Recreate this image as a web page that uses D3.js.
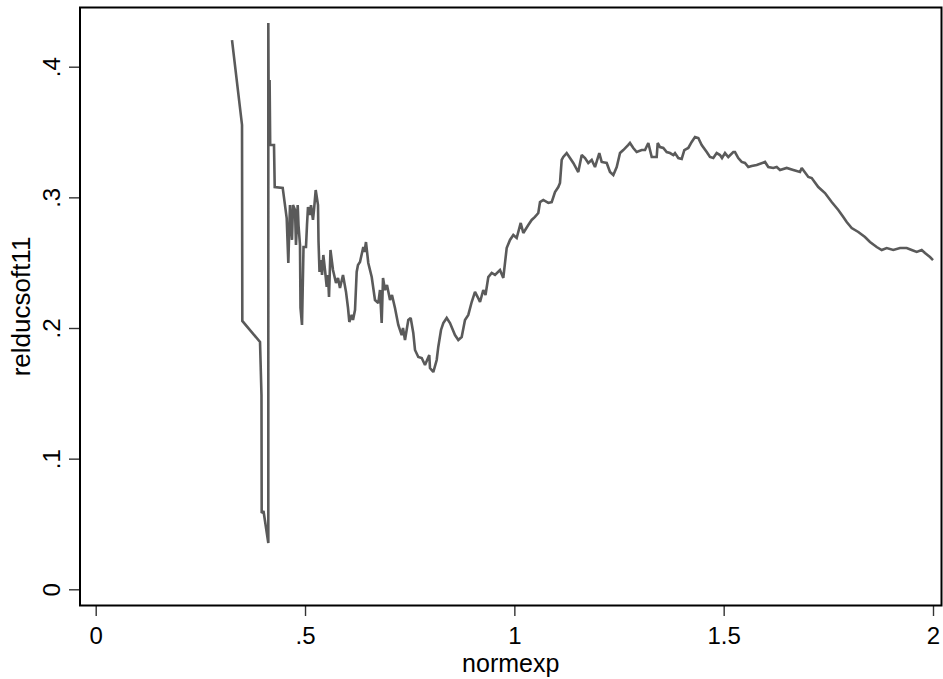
<!DOCTYPE html>
<html>
<head>
<meta charset="utf-8">
<script src="https://cdn.jsdelivr.net/npm/d3@7"></script>
<style>
  body { margin: 0; background: #fff; }
  svg { display: block; }
  text { font-family: "Liberation Sans", Arial, sans-serif; fill: #000; }
</style>
</head>
<body>
<script>
//x values (normexp)
var normexp = [0.3256, 0.3495, 0.3502, 0.3925, 0.3960, 0.3965, 0.4008, 0.4123, 0.4123, 0.4135,
  0.4154, 0.4168, 0.4259, 0.4276, 0.4467, 0.4562, 0.4601, 0.4641, 0.4689, 0.4713,
  0.4761, 0.4784, 0.4825, 0.4844, 0.4880, 0.4892, 0.4928, 0.4964, 0.5023, 0.5047,
  0.5071, 0.5119, 0.5143, 0.5190, 0.5214, 0.5255, 0.5310, 0.5322, 0.5346, 0.5382,
  0.5406, 0.5437, 0.5477, 0.5518, 0.5549, 0.5573, 0.5608, 0.5668, 0.5740, 0.5788,
  0.5835, 0.5907, 0.5979, 0.6027, 0.6058, 0.6115, 0.6146, 0.6194, 0.6234, 0.6265,
  0.6313, 0.6392, 0.6421, 0.6456, 0.6511, 0.6593, 0.6671, 0.6750, 0.6791, 0.6831,
  0.6863, 0.6910, 0.6958, 0.7030, 0.7077, 0.7149, 0.7228, 0.7309, 0.7340, 0.7388,
  0.7467, 0.7524, 0.7586, 0.7627, 0.7706, 0.7787, 0.7866, 0.7968, 0.7985, 0.8064,
  0.8145, 0.8183, 0.8248, 0.8303, 0.8384, 0.8463, 0.8582, 0.8661, 0.8742, 0.8821,
  0.8900, 0.8981, 0.9060, 0.9124, 0.9180, 0.9258, 0.9311, 0.9378, 0.9459, 0.9538,
  0.9657, 0.9736, 0.9817, 0.9896, 0.9975, 1.0056, 1.0152, 1.0214, 1.0333, 1.0414,
  1.0493, 1.0572, 1.0613, 1.0691, 1.0811, 1.0892, 1.0971, 1.1050, 1.1090, 1.1131,
  1.1169, 1.1250, 1.1329, 1.1408, 1.1527, 1.1609, 1.1688, 1.1766, 1.1848, 1.1926,
  1.2029, 1.2086, 1.2206, 1.2285, 1.2364, 1.2445, 1.2524, 1.2602, 1.2722, 1.2762,
  1.2841, 1.2922, 1.3042, 1.3121, 1.3200, 1.3281, 1.3400, 1.3424, 1.3479, 1.3558,
  1.3639, 1.3718, 1.3797, 1.3837, 1.3916, 1.3997, 1.4060, 1.4155, 1.4236, 1.4315,
  1.4394, 1.4475, 1.4595, 1.4673, 1.4752, 1.4833, 1.4912, 1.4960, 1.5032, 1.5110,
  1.5230, 1.5270, 1.5349, 1.5430, 1.5509, 1.5588, 1.5669, 1.5789, 1.5987, 1.6066,
  1.6185, 1.6266, 1.6346, 1.6505, 1.6663, 1.6823, 1.6864, 1.7022, 1.7103, 1.7260,
  1.7420, 1.7580, 1.7738, 1.7857, 1.7939, 1.8058, 1.8216, 1.8375, 1.8495, 1.8655,
  1.8775, 1.8894, 1.9052, 1.9212, 1.9372, 1.9491, 1.9611, 1.9730, 1.9809, 1.9928,
  2.0000];

//y values (relducsoft11)
var relducsoft11 = [0.4204, 0.3554, 0.2054, 0.1893, 0.1487, 0.0584, 0.0599, 0.0354, 0.4334, 0.3439,
  0.3898, 0.3401, 0.3401, 0.3079, 0.3072, 0.2842, 0.2498, 0.2941, 0.2674, 0.2941,
  0.2903, 0.2635, 0.2941, 0.2788, 0.2635, 0.2153, 0.2023, 0.2620, 0.2620, 0.2788,
  0.2926, 0.2865, 0.2941, 0.2827, 0.2903, 0.3056, 0.2941, 0.2666, 0.2429, 0.2520,
  0.2406, 0.2559, 0.2444, 0.2314, 0.2406, 0.2237, 0.2597, 0.2444, 0.2344, 0.2383,
  0.2306, 0.2406, 0.2276, 0.2153, 0.2046, 0.2100, 0.2061, 0.2138, 0.2429, 0.2482,
  0.2505, 0.2620, 0.2582, 0.2658, 0.2498, 0.2390, 0.2214, 0.2191, 0.2291, 0.2038,
  0.2383, 0.2291, 0.2329, 0.2214, 0.2253, 0.2153, 0.2023, 0.1946, 0.2000, 0.1908,
  0.2061, 0.2077, 0.1962, 0.1832, 0.1778, 0.1770, 0.1717, 0.1793, 0.1694, 0.1663,
  0.1755, 0.1855, 0.1985, 0.2038, 0.2077, 0.2038, 0.1946, 0.1908, 0.1931, 0.2061,
  0.2100, 0.2199, 0.2276, 0.2237, 0.2199, 0.2291, 0.2253, 0.2390, 0.2421, 0.2406,
  0.2444, 0.2383, 0.2612, 0.2674, 0.2712, 0.2689, 0.2804, 0.2727, 0.2788, 0.2827,
  0.2850, 0.2880, 0.2964, 0.2980, 0.2957, 0.2964, 0.3041, 0.3079, 0.3110, 0.3286,
  0.3309, 0.3339, 0.3301, 0.3263, 0.3194, 0.3324, 0.3301, 0.3263, 0.3286, 0.3232,
  0.3339, 0.3271, 0.3263, 0.3194, 0.3171, 0.3232, 0.3339, 0.3362, 0.3401, 0.3416,
  0.3378, 0.3347, 0.3362, 0.3362, 0.3416, 0.3309, 0.3309, 0.3416, 0.3385, 0.3378,
  0.3347, 0.3339, 0.3324, 0.3339, 0.3301, 0.3294, 0.3362, 0.3378, 0.3424, 0.3462,
  0.3454, 0.3401, 0.3347, 0.3309, 0.3301, 0.3339, 0.3324, 0.3301, 0.3339, 0.3309,
  0.3347, 0.3347, 0.3301, 0.3271, 0.3263, 0.3232, 0.3240, 0.3248, 0.3271, 0.3232,
  0.3225, 0.3232, 0.3209, 0.3225, 0.3209, 0.3194, 0.3225, 0.3156, 0.3148, 0.3079,
  0.3033, 0.2964, 0.2903, 0.2850, 0.2811, 0.2765, 0.2735, 0.2696, 0.2658, 0.2620,
  0.2597, 0.2612, 0.2597, 0.2612, 0.2612, 0.2597, 0.2582, 0.2597, 0.2574, 0.2543,
  0.2520];

//tick values and labels
var xTicks = [0, 0.5, 1, 1.5, 2];
var xTickLabels = ["0", ".5", "1", "1.5", "2"];
var yTicks = [0, 0.1, 0.2, 0.3, 0.4];
var yTickLabels = ["0", ".1", ".2", ".3", ".4"];

var width = 943,
    height = 679;

//plot region frame
var box = {left: 80, top: 7.5, right: 941.5, bottom: 605.5};

var svg = d3.select("body")
    .append("svg")
    .attr("width", width)
    .attr("height", height);

var x = d3.scaleLinear()
    .domain([0, 2])
    .range([95.7, 933]);

var y = d3.scaleLinear()
    .domain([0, 0.4])
    .range([589.3, 66.7]);

//y axis ticks and labels
var yAxis = svg.append("g")
    .attr("transform", "translate(" + box.left + ",0)")
    .call(d3.axisLeft(y)
        .tickValues(yTicks)
        .tickSize(11)
        .tickFormat(function(d, i){ return yTickLabels[i]; }));
yAxis.select(".domain").remove();
yAxis.selectAll("line").attr("stroke", "#333").attr("stroke-width", 1.4);
yAxis.selectAll("text")
    .attr("x", null).attr("dy", null)
    .attr("text-anchor", "middle")
    .attr("transform", "translate(-20,0) rotate(-90)")
    .style("font-size", "24px")
    .style("font-family", "'Liberation Sans', Arial, sans-serif");

//x axis ticks and labels
var xAxis = svg.append("g")
    .attr("transform", "translate(0," + box.bottom + ")")
    .call(d3.axisBottom(x)
        .tickValues(xTicks)
        .tickSize(10.5)
        .tickFormat(function(d, i){ return xTickLabels[i]; }));
xAxis.select(".domain").remove();
xAxis.selectAll("line").attr("stroke", "#333").attr("stroke-width", 1.4);
xAxis.selectAll("text")
    .attr("y", 38.5).attr("dy", null)
    .style("font-size", "24px")
    .style("font-family", "'Liberation Sans', Arial, sans-serif");

//frame around plot region
svg.append("rect")
    .attr("x", box.left)
    .attr("y", box.top)
    .attr("width", box.right - box.left)
    .attr("height", box.bottom - box.top)
    .attr("fill", "none")
    .attr("stroke", "#000")
    .attr("stroke-width", 2);

//the line
var line = d3.line()
    .x(function(d){ return x(d[0]); })
    .y(function(d){ return y(d[1]); });

svg.append("path")
    .datum(d3.zip(normexp, relducsoft11))
    .attr("d", line)
    .attr("fill", "none")
    .attr("stroke", "#5a5a5a")
    .attr("stroke-width", 2.6)
    .attr("stroke-linejoin", "miter")
    .attr("stroke-miterlimit", 2);

//axis titles
svg.append("text")
    .attr("x", (box.left + box.right) / 2)
    .attr("y", 672)
    .attr("text-anchor", "middle")
    .style("font-size", "25px")
    .text("normexp");

svg.append("text")
    .attr("transform", "translate(30," + ((box.top + box.bottom) / 2) + ") rotate(-90)")
    .attr("text-anchor", "middle")
    .style("font-size", "26px")
    .text("relducsoft11");
</script>
</body>
</html>
